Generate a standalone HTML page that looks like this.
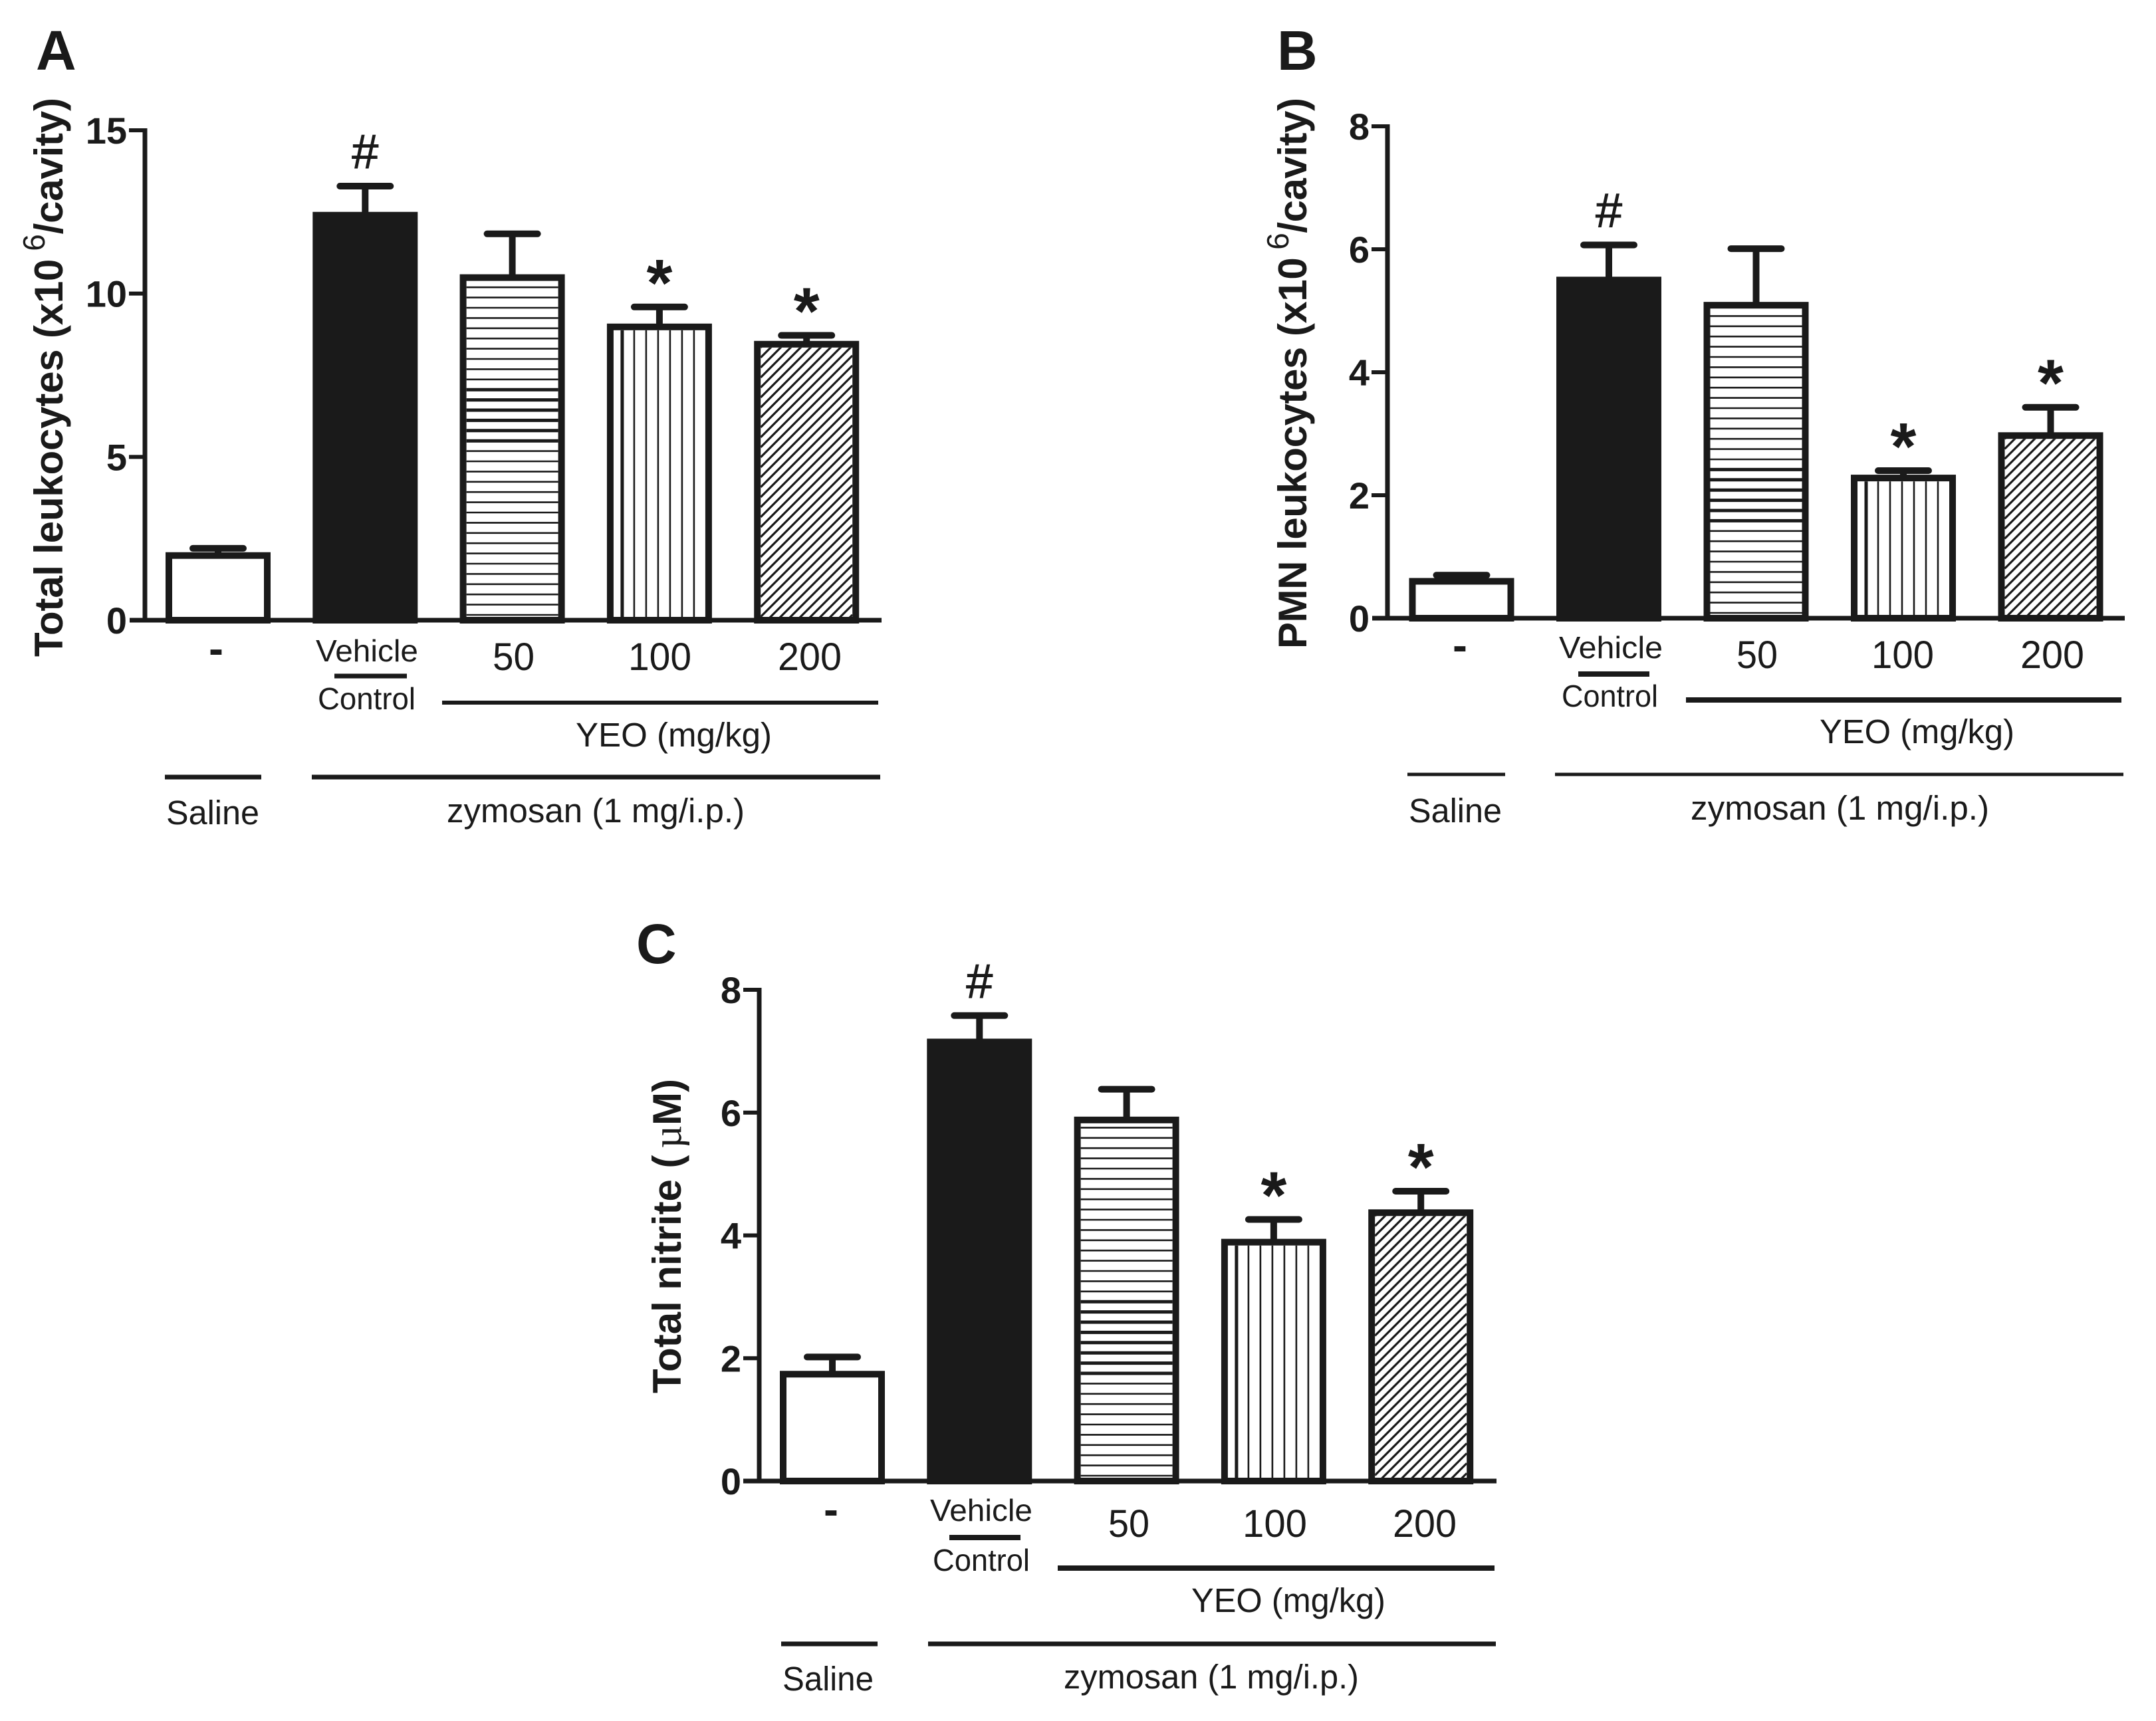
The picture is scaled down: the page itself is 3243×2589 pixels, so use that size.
<!DOCTYPE html>
<html lang="en">
<head>
<meta charset="utf-8">
<title>Leukocytes and nitrite bar charts</title>
<style>
  html, body { margin: 0; padding: 0; background: #ffffff; }
  svg { display: block; }
  text { font-family: "Liberation Sans", sans-serif; fill: #1a1a1a; }
  .panel-letter { font-size: 84px; font-weight: bold; }
  .axis-title { font-size: 60px; font-weight: bold; }
  .tick-label { font-size: 56px; font-weight: bold; text-anchor: end; }
  .small-label { font-size: 46px; }
  .dash-label { font-size: 66px; font-weight: bold; }
  .dose-label { font-size: 58px; }
  .group-label { font-size: 51px; }
  .group-line { stroke: #1a1a1a; fill: none; }
</style>
</head>
<body>
<svg id="figure" xmlns="http://www.w3.org/2000/svg" width="3243" height="2589" viewBox="0 0 3243 2589">
  <rect x="0" y="0" width="3243" height="2589" fill="#ffffff"/>

  <g id="panel-a">
    <text class="panel-letter" x="54" y="105">A</text>
    <text class="axis-title" x="94" y="988" textLength="841" lengthAdjust="spacing" transform="rotate(-90 94 988)">Total leukocytes (x10<tspan dx="12" dy="-27" font-size="46" font-weight="normal">6</tspan><tspan dy="27">/cavity)</tspan></text>
    <text class="dash-label" x="314" y="998">-</text>
    <text class="small-label" x="475" y="995" textLength="154" lengthAdjust="spacingAndGlyphs">Vehicle</text>
    <line class="group-line" x1="503" x2="612" y1="1017" y2="1017" stroke-width="7"/>
    <text class="small-label" x="478" y="1067" textLength="147" lengthAdjust="spacingAndGlyphs">Control</text>
    <text class="dose-label" x="741" y="1008" textLength="63" lengthAdjust="spacingAndGlyphs">50</text>
    <text class="dose-label" x="945" y="1008" textLength="95" lengthAdjust="spacingAndGlyphs">100</text>
    <text class="dose-label" x="1170" y="1008" textLength="96" lengthAdjust="spacingAndGlyphs">200</text>
    <line class="group-line" x1="665" x2="1321" y1="1057" y2="1057" stroke-width="6"/>
    <text class="group-label" x="866" y="1123" textLength="295" lengthAdjust="spacingAndGlyphs">YEO (mg/kg)</text>
    <line class="group-line" x1="248" x2="393" y1="1169" y2="1169" stroke-width="7"/>
    <line class="group-line" x1="469" x2="1324" y1="1169" y2="1169" stroke-width="7"/>
    <text class="group-label" x="250" y="1240" textLength="140" lengthAdjust="spacingAndGlyphs">Saline</text>
    <text class="group-label" x="672" y="1237" textLength="448" lengthAdjust="spacingAndGlyphs">zymosan (1 mg/i.p.)</text>
  </g>

  <g id="panel-b">
    <text class="panel-letter" x="1921" y="105">B</text>
    <text class="axis-title" x="1965" y="976" textLength="829" lengthAdjust="spacing" transform="rotate(-90 1965 976)">PMN leukocytes (x10<tspan dx="12" dy="-27" font-size="46" font-weight="normal">6</tspan><tspan dy="27">/cavity)</tspan></text>
    <text class="dash-label" x="2185" y="993">-</text>
    <text class="small-label" x="2345" y="990" textLength="156" lengthAdjust="spacingAndGlyphs">Vehicle</text>
    <line class="group-line" x1="2374" x2="2481" y1="1014" y2="1014" stroke-width="8"/>
    <text class="small-label" x="2349" y="1063" textLength="145" lengthAdjust="spacingAndGlyphs">Control</text>
    <text class="dose-label" x="2612" y="1005" textLength="62" lengthAdjust="spacingAndGlyphs">50</text>
    <text class="dose-label" x="2815" y="1005" textLength="94" lengthAdjust="spacingAndGlyphs">100</text>
    <text class="dose-label" x="3039" y="1005" textLength="96" lengthAdjust="spacingAndGlyphs">200</text>
    <line class="group-line" x1="2536" x2="3191" y1="1053" y2="1053" stroke-width="8"/>
    <text class="group-label" x="2737" y="1118" textLength="293" lengthAdjust="spacingAndGlyphs">YEO (mg/kg)</text>
    <line class="group-line" x1="2117" x2="2264" y1="1165" y2="1165" stroke-width="5"/>
    <line class="group-line" x1="2339" x2="3194" y1="1165" y2="1165" stroke-width="5"/>
    <text class="group-label" x="2119" y="1237" textLength="140" lengthAdjust="spacingAndGlyphs">Saline</text>
    <text class="group-label" x="2543" y="1233" textLength="449" lengthAdjust="spacingAndGlyphs">zymosan (1 mg/i.p.)</text>
  </g>

  <g id="panel-c">
    <text class="panel-letter" x="957" y="1449">C</text>
    <text class="axis-title" x="1024" y="2096" textLength="473" lengthAdjust="spacing" transform="rotate(-90 1024 2096)">Total nitrite (<tspan dx="10" font-family="Liberation Serif" font-weight="normal">µ</tspan>M)</text>
    <text class="dash-label" x="1239" y="2293">-</text>
    <text class="small-label" x="1399" y="2288" textLength="154" lengthAdjust="spacingAndGlyphs">Vehicle</text>
    <line class="group-line" x1="1428" x2="1535" y1="2313" y2="2313" stroke-width="8"/>
    <text class="small-label" x="1403" y="2363" textLength="146" lengthAdjust="spacingAndGlyphs">Control</text>
    <text class="dose-label" x="1667" y="2312" textLength="62" lengthAdjust="spacingAndGlyphs">50</text>
    <text class="dose-label" x="1869" y="2312" textLength="97" lengthAdjust="spacingAndGlyphs">100</text>
    <text class="dose-label" x="2095" y="2312" textLength="96" lengthAdjust="spacingAndGlyphs">200</text>
    <line class="group-line" x1="1591" x2="2248" y1="2359" y2="2359" stroke-width="8"/>
    <text class="group-label" x="1792" y="2425" textLength="292" lengthAdjust="spacingAndGlyphs">YEO (mg/kg)</text>
    <line class="group-line" x1="1175" x2="1320" y1="2473" y2="2473" stroke-width="7"/>
    <line class="group-line" x1="1396" x2="2250" y1="2473" y2="2473" stroke-width="7"/>
    <text class="group-label" x="1177" y="2543" textLength="137" lengthAdjust="spacingAndGlyphs">Saline</text>
    <text class="group-label" x="1600" y="2540" textLength="444" lengthAdjust="spacingAndGlyphs">zymosan (1 mg/i.p.)</text>
  </g>
</svg>

<script>
// Chart data
const categories = ['saline', 'vehicle-control', 'yeo-50', 'yeo-100', 'yeo-200'];
const markers = {
  a: ['', '#', '', '*', '*'],
  b: ['', '#', '', '*', '*'],
  c: ['', '#', '', '*', '*']
};
const meanA = [1.98, 12.4, 10.49, 8.98, 8.45];
const upperErrorA = [2.2, 13.29, 11.83, 9.59, 8.72];
const ticksA = [0, 5, 10, 15];

const meanB = [0.6, 5.5, 5.09, 2.28, 2.97];
const upperErrorB = [0.7, 6.07, 6.01, 2.4, 3.43];
const ticksB = [0, 2, 4, 6, 8];

const meanC = [1.74, 7.15, 5.88, 3.89, 4.37];
const upperErrorC = [2.02, 7.58, 6.38, 4.26, 4.72];
const ticksC = [0, 2, 4, 6, 8];

const INK = '#1a1a1a';
const NS = 'http://www.w3.org/2000/svg';
const BAR_WIDTH = 148;
const STROKE = 10;
const CAP_HALF = 38;

function make(parent, tag, attrs) {
  const el = document.createElementNS(NS, tag);
  for (const k in attrs) el.setAttribute(k, attrs[k]);
  parent.appendChild(el);
  return el;
}

function drawHatch(group, kind, id, cat, left, right, top, bottom, thickLo, thickHi) {
  const clipId = 'clip-' + id + '-' + cat;
  const defs = make(group, 'defs', {});
  const clip = make(defs, 'clipPath', { id: clipId });
  make(clip, 'rect', { x: left, y: top, width: right - left, height: bottom - top });
  const hatch = make(group, 'g', { 'clip-path': 'url(#' + clipId + ')', stroke: INK, fill: 'none' });
  
  
  if (kind === 'horizontal') {
    for (let y = bottom - 3, d = 8; y > top; y -= 15.4, d += 15.4) {
      const thick = d >= thickLo && d <= thickHi;
      make(hatch, 'line', { x1: left, x2: right, y1: y, y2: y, 'stroke-width': thick ? 5 : 2.6 });
    }
  } else if (kind === 'vertical') {
    for (let x = left + 13, i = 0; x < right; x += 18, i++) {
      make(hatch, 'line', { x1: x, x2: x, y1: top, y2: bottom, 'stroke-width': i === 0 ? 5 : 2.6 });
    }
  } else {
    for (let y = top; y < bottom + (right - left); y += 15) {
      make(hatch, 'line', { x1: left, x2: right, y1: y, y2: y - (right - left), 'stroke-width': 3.2 });
    }
  }
}

function drawPanel(cfg, means, uppers, ticks, marks) {
  const root = document.getElementById('panel-' + cfg.id);
  const yOf = function (v) { return cfg.baseY - (v - 0) * (cfg.baseY - cfg.topY) / ticks[ticks.length - 1]; };
  const xOf = function (i) { return cfg.firstX + i * cfg.step; };

  categories.forEach(function (cat, i) {
    const cx = xOf(i);
    const vy = yOf(means[i]);
    const ey = yOf(uppers[i]);

    const stem = make(root, 'line', { x1: cx, x2: cx, y1: ey, y2: vy, stroke: INK, 'stroke-width': STROKE });
    
    

    const cap = make(root, 'line', { x1: cx - CAP_HALF, x2: cx + CAP_HALF, y1: ey, y2: ey, stroke: INK, 'stroke-width': STROKE, 'stroke-linecap': 'round' });
    
    

    const bar = make(root, 'rect', {
      x: cx - BAR_WIDTH / 2, y: vy, width: BAR_WIDTH, height: cfg.baseY - vy,
      fill: i === 1 ? INK : '#ffffff', stroke: INK, 'stroke-width': STROKE
    });
    
    

    const inL = cx - BAR_WIDTH / 2 + STROKE / 2;
    const inR = cx + BAR_WIDTH / 2 - STROKE / 2;
    const inT = vy + STROKE / 2;
    if (i === 2) drawHatch(root, 'horizontal', cfg.id, cat, inL, inR, inT, cfg.baseY - 5, cfg.thickLo, cfg.thickHi);
    if (i === 3) drawHatch(root, 'vertical', cfg.id, cat, inL, inR, inT, cfg.baseY - 3, 0, 0);
    if (i === 4) drawHatch(root, 'diagonal', cfg.id, cat, inL, inR, inT, cfg.baseY - 3, 0, 0);

    if (marks[i] === '#') {
      const hash = make(root, 'text', { x: cx, y: ey - 27, 'text-anchor': 'middle', 'font-size': 72, stroke: INK, 'stroke-width': 1 });
      
      
      hash.textContent = marks[i];
    } else if (marks[i] === '*') {
      const star = make(root, 'text', { x: cx, y: ey - 2, 'text-anchor': 'middle', 'font-size': 100, 'font-weight': 'bold' });
      
      
      star.textContent = marks[i];
    }
  });

  const yAxis = make(root, 'line', { x1: cfg.axisX, x2: cfg.axisX, y1: cfg.topY - 3, y2: cfg.baseY, stroke: INK, 'stroke-width': 7 });
  
  

  const xAxis = make(root, 'line', { x1: cfg.xStart, x2: cfg.xEnd, y1: cfg.baseY, y2: cfg.baseY, stroke: INK, 'stroke-width': 7 });
  
  

  ticks.forEach(function (t) {
    const y = yOf(t);
    if (t !== 0) {
      const tick = make(root, 'line', { x1: cfg.axisX - 24, x2: cfg.axisX, y1: y, y2: y, stroke: INK, 'stroke-width': 6 });
      
      
    }
    const label = make(root, 'text', { x: cfg.axisX - 27, y: y + 20, class: 'tick-label' });
    
    
    label.textContent = String(t);
  });
}

drawPanel({ id: 'a', baseY: 933, topY: 196, axisX: 218, xStart: 195, xEnd: 1326, firstX: 328, step: 221.3, thickLo: 269, thickHi: 348 }, meanA, upperErrorA, ticksA, markers.a);
drawPanel({ id: 'b', baseY: 930, topY: 190, axisX: 2087, xStart: 2064, xEnd: 3196, firstX: 2198.5, step: 221.5, thickLo: 134, thickHi: 230 }, meanB, upperErrorB, ticksB, markers.b);
drawPanel({ id: 'c', baseY: 2228, topY: 1489, axisX: 1142, xStart: 1118, xEnd: 2251, firstX: 1252, step: 221.3, thickLo: 160, thickHi: 270 }, meanC, upperErrorC, ticksC, markers.c);
</script>
</body>
</html>
